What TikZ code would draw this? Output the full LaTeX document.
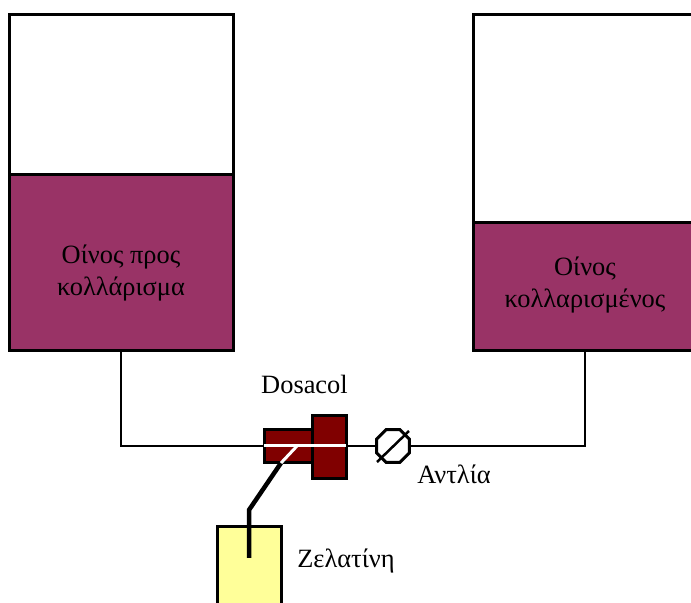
\documentclass[tikz,border=0pt]{standalone}
\usepackage{fontspec}
\setmainfont{Liberation Serif}
\usetikzlibrary{positioning, shapes.geometric, calc}
\definecolor{wineRed}{HTML}{993366}
\definecolor{dosaRed}{HTML}{800000}
\definecolor{gelYellow}{HTML}{FFFF99}
\tikzset{
  tankTop/.style={rectangle, draw=black, fill=white, line width=1.5pt, outer sep=0pt,
                  minimum width=112pt},
  wineBox/.style={rectangle, draw=black, fill=wineRed, line width=1.5pt, outer sep=0pt,
                  minimum width=112pt},
  dosaBox/.style={rectangle, draw=black, fill=dosaRed, line width=1.5pt, outer sep=0pt},
  gelBox/.style={rectangle, draw=black, fill=gelYellow, line width=1.5pt, outer sep=0pt},
  pumpBox/.style={regular polygon, regular polygon sides=8, draw=black, fill=white,
                  line width=1.5pt, inner sep=0pt, outer sep=0pt, minimum size=17.8pt},
  pipe/.style={draw=black, line width=1.25pt},
  pipeG/.style={draw=black, line width=2.25pt},
  pipeW/.style={draw=white, line width=1.5pt},
  lbl/.style={align=center, inner sep=0pt, font=\fontsize{13.2}{16}\selectfont},
}
\begin{document}
\begin{tikzpicture}[x=0.5pt, y=-0.5pt, node distance=0pt]
    \useasboundingbox (0,0) rectangle (691,603);
    % tanks
    \node[tankTop, minimum height=80pt] (topA) at (121,95) {};
    \node[wineBox, below=of topA, minimum height=88pt] (wineA) {};
    \node[tankTop, minimum height=104pt] (topB) at (585,119) {};
    \node[wineBox, below=of topB, minimum height=64pt] (wineB) {};
    \node[lbl] (textA) at (121,273.5) {Οίνος προς\\κολλάρισμα};
    \node[lbl] (textB) at (585,285) {Οίνος\\κολλαρισμένος};
    % dosacol, pump, gelatine
    \node[dosaBox, minimum width=24pt, minimum height=16.5pt] (dosaA) at (288,446) {};
    \node[dosaBox, minimum width=17pt, minimum height=31.5pt] (dosaB) at (329,447.5) {};
    \node[pumpBox] (pump) at (393,446) {};
    \node[gelBox, minimum width=32pt, minimum height=48pt] (gel) at (249,575) {};
    \coordinate (bend) at (249,510);
    \coordinate (gelEnd) at (249,558);
    \coordinate (gelIn) at (281,463);
    \coordinate (branch) at (297,446);
    % pipes
    \draw[pipe] (wineA.south) |- (dosaA.west);
    \draw[pipe] (dosaB.east |- dosaA.east) -- (pump.west);
    \draw[pipe] (wineB.south) |- (pump.east);
    \draw[pipe] ($(pump.center)+(-16,16)$) -- ($(pump.center)+(16,-15)$);
    \draw[pipeG] (gelIn) -- (bend) -- (gelEnd);
    \draw[pipeW] (dosaA.west) -- (dosaB.east |- dosaA.east);
    \draw[pipeW] (branch) -- (gelIn);
    % labels
    \node[lbl] (lblDosa) at (304.5,384) {Dosacol};
    \node[lbl] (lblPump) at (454,474) {Αντλία};
    \node[lbl] (lblGel) at (346,561) {Ζελατίνη};
  \end{tikzpicture}
\end{document}
